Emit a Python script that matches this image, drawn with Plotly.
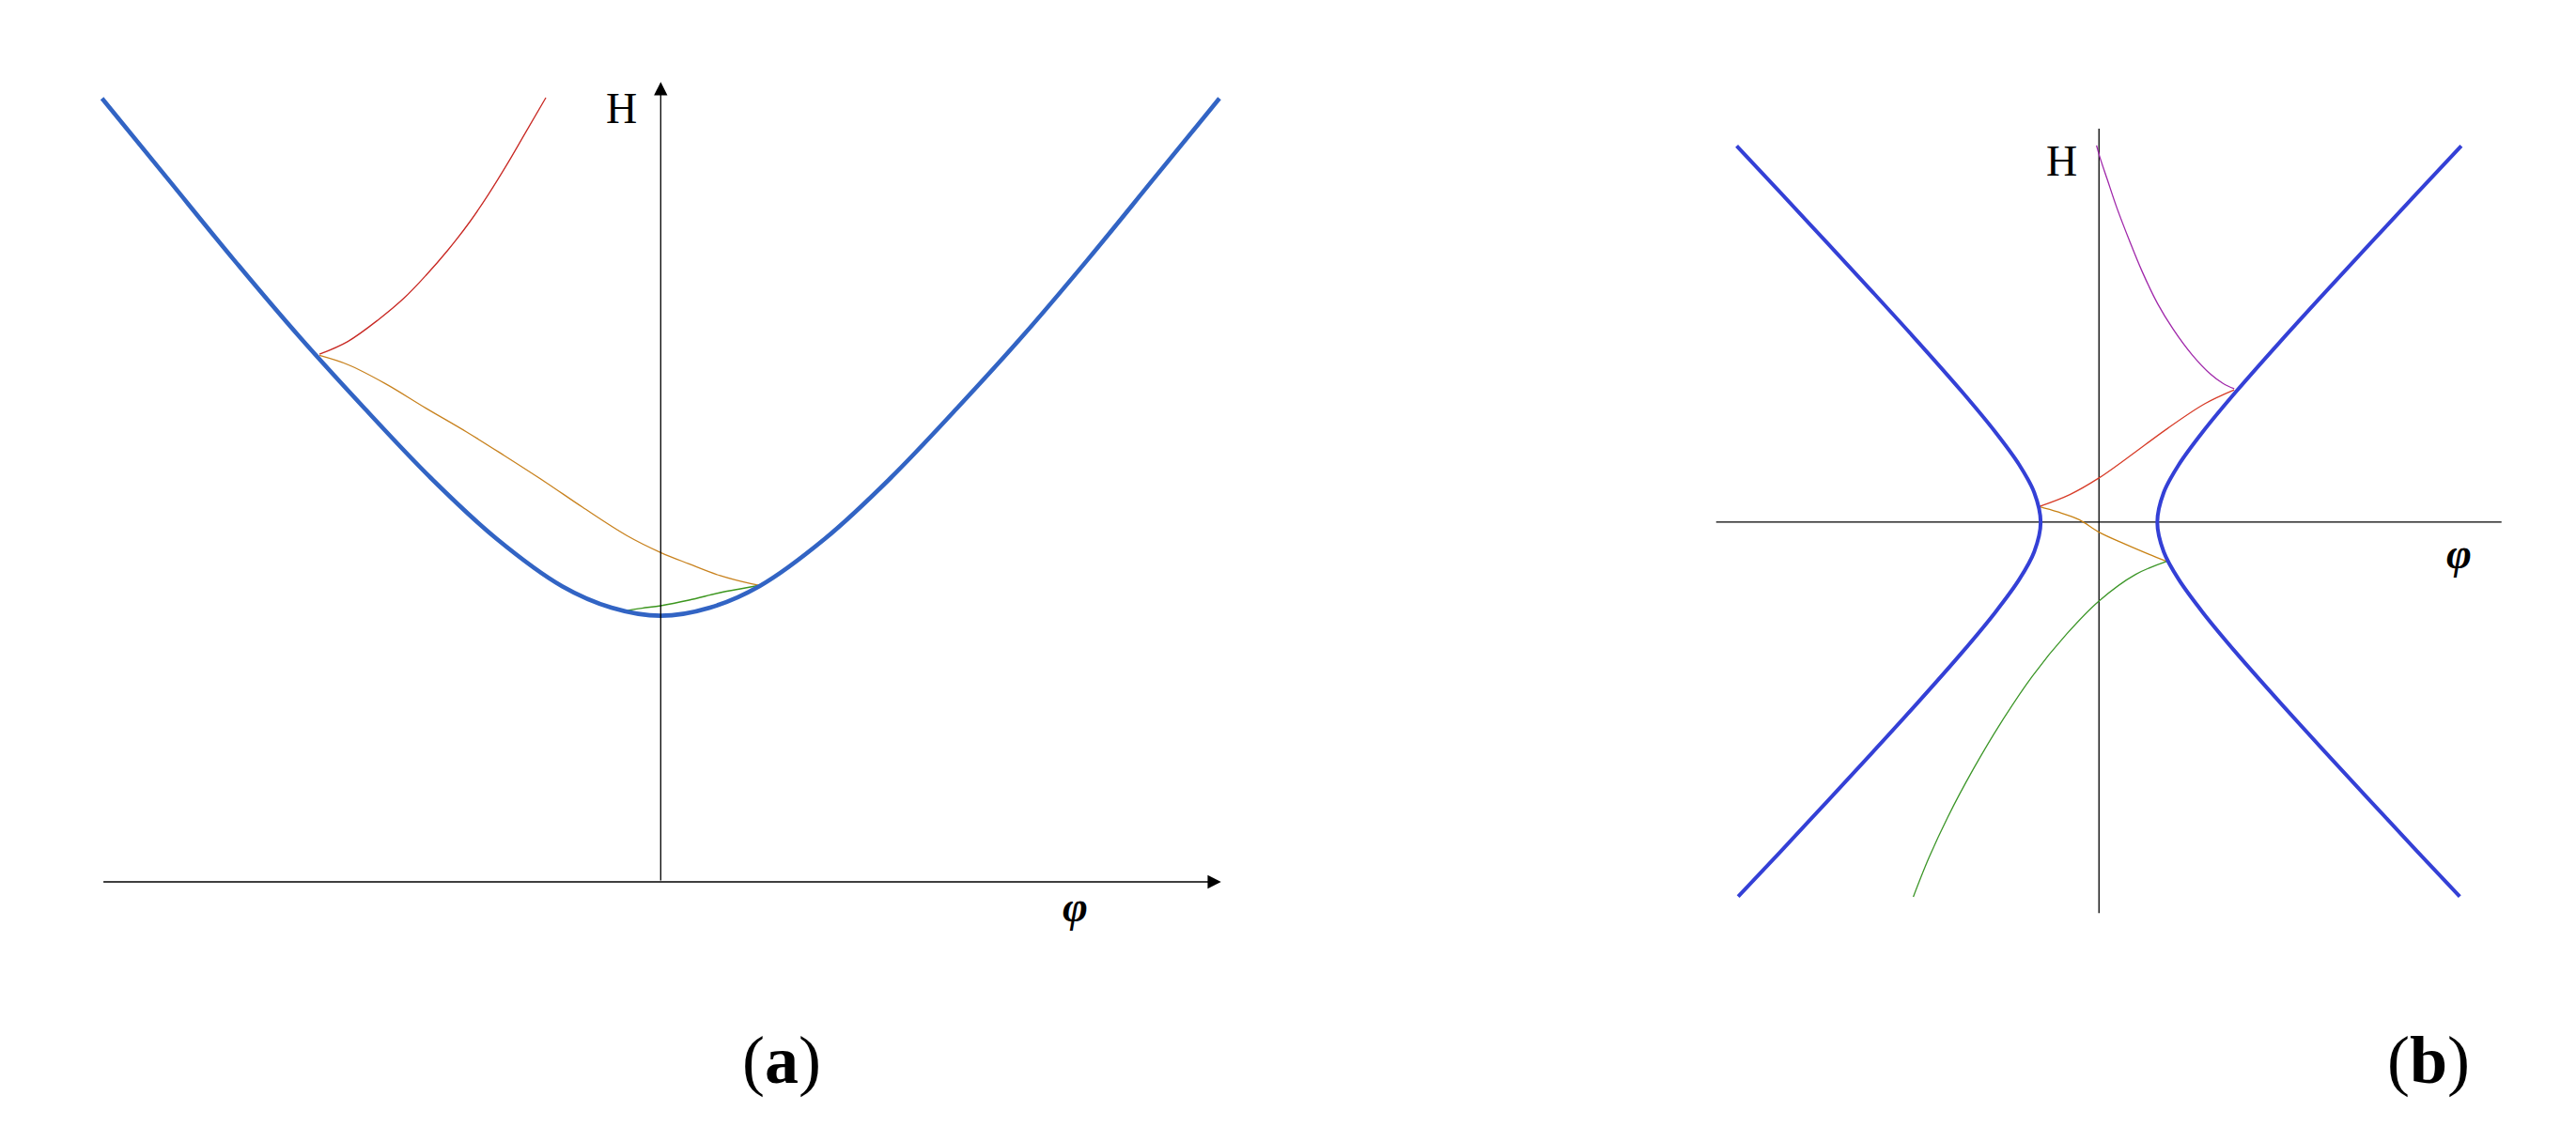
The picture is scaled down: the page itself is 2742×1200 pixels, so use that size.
import plotly.graph_objects as go

# ---- panel (a) data (phi, H) ----
a_blue_phi = [-340, -300, -260, -220, -180, -140, -100, -60, -30, 0, 30, 60, 100, 140, 180, 220, 260, 300, 340]
a_blue_h = [477, 428, 379, 332, 288, 246, 209, 180, 167, 162, 167, 180, 209, 246, 288, 332, 379, 428, 477]

a_red_phi = [-207.7, -190.4, -171.5, -156.3, -142.9, -129.6, -116.2, -104.8, -93.4, -82, -69.9]
a_red_h = [321.2, 329, 342.5, 355.3, 369.2, 384.5, 401.8, 418.6, 437, 456.6, 477.4]

a_orange_phi = [-207.7, -190.4, -167.7, -142.9, -118.1, -95.3, -70.5, -47.6, -20.9, 0, 17.2, 36.2, 55.3, 60]
a_orange_h = [320.5, 314.9, 303.4, 288.4, 273.9, 259.6, 243.6, 228.1, 211, 200.5, 193.6, 186.4, 181.4, 180.5]

a_green_phi = [-23.8, -11.4, 0, 17.2, 36.2, 47.7, 60]
a_green_h = [164.7, 166.6, 168.1, 171.5, 176.1, 178.2, 180.5]

# ---- panel (b) data (phi, H) ----
b_h = [229, 200, 170, 140, 110, 80, 55, 35, 18, 0, -18, -35, -55, -80, -110, -140, -170, -200, -228]
b_right_phi = [220.5, 193.3, 165.4, 137.7, 110.4, 83.9, 63.2, 48.6, 39.4, 35.5,
               39.4, 48.6, 63.2, 83.9, 110.4, 137.7, 165.4, 193.3, 219.6]
b_left_phi = [-v for v in b_right_phi]

b_magenta_phi = [-1.5, 0.4, 5.1, 10.9, 18.5, 26.1, 35.7, 45.2, 56.6, 68, 75.7, 82.3]
b_magenta_h = [229.3, 222.6, 208.5, 191.3, 171.5, 153, 133, 117.4, 102, 90, 84.3, 81.2]

b_red_phi = [-36.4, -17.7, 0, 18.5, 41.4, 64.3, 82.3]
b_red_h = [9.5, 16.8, 26.9, 40, 56.8, 72, 80.5]

b_orange_phi = [-36.4, -25.3, -12, 0, 16.6, 30, 41.4]
b_orange_h = [9.5, 6.3, 1.5, -6.1, -13.7, -19.4, -24]

b_green_phi = [41.4, 22.3, 0, -19.6, -40.6, -59.6, -76.8, -92, -103.5, -113]
b_green_h = [-23.8, -31.8, -48, -68, -93.8, -122, -150.9, -179.5, -204.3, -228.1]

SERIF = "Liberation Serif"

fig = go.Figure()


def curve(x, y, color, width, xa="x", ya="y"):
    fig.add_trace(go.Scatter(x=x, y=y, mode="lines", xaxis=xa, yaxis=ya,
                             line=dict(color=color, width=width, shape="spline", smoothing=1.0),
                             hoverinfo="skip", showlegend=False))


def straight(x, y, xa, ya):
    fig.add_trace(go.Scatter(x=x, y=y, mode="lines", xaxis=xa, yaxis=ya,
                             line=dict(color="black", width=1.3),
                             hoverinfo="skip", showlegend=False))


# panel (a)
curve(a_red_phi, a_red_h, "rgb(200,40,35)", 1.3)
curve(a_orange_phi, a_orange_h, "rgb(200,130,30)", 1.3)
curve(a_green_phi, a_green_h, "rgb(60,150,30)", 1.5)
curve(a_blue_phi, a_blue_h, "rgb(50,100,196)", 4.6)

# panel (b)
straight([-233, 245], [0, 0], "x2", "y2")
straight([0, 0], [-238, 239.5], "x2", "y2")
curve(b_magenta_phi, b_magenta_h, "rgb(160,40,170)", 1.3, "x2", "y2")
curve(b_red_phi, b_red_h, "rgb(215,60,40)", 1.3, "x2", "y2")
curve(b_orange_phi, b_orange_h, "rgb(200,130,20)", 1.3, "x2", "y2")
curve(b_green_phi, b_green_h, "rgb(60,150,40)", 1.3, "x2", "y2")
curve(b_left_phi, b_h, "rgb(52,64,214)", 4, "x2", "y2")
curve(b_right_phi, b_h, "rgb(52,64,214)", 4, "x2", "y2")

ann = [
    # axes of (a) with arrow heads
    dict(x=341, y=0, ax=-340, ay=0, xref="x", yref="y", axref="x", ayref="y",
         showarrow=True, arrowhead=2, arrowsize=2.2, arrowwidth=1.3, arrowcolor="black", text=""),
    dict(x=0, y=487, ax=0, ay=0, xref="x", yref="y", axref="x", ayref="y",
         showarrow=True, arrowhead=2, arrowsize=2.2, arrowwidth=1.3, arrowcolor="black", text=""),
    dict(x=-24, y=471, xref="x", yref="y", text="H", showarrow=False,
         font=dict(family=SERIF, size=46, color="black")),
    dict(x=252, y=-15, xref="x", yref="y", text="<b><i>φ</i></b>", showarrow=False,
         font=dict(family=SERIF, size=46, color="black")),
    dict(x=-23, y=219.6, xref="x2", yref="y2", text="H", showarrow=False,
         font=dict(family=SERIF, size=46, color="black")),
    dict(x=219, y=-19, xref="x2", yref="y2", text="<b><i>φ</i></b>", showarrow=False,
         font=dict(family=SERIF, size=46, color="black")),
    dict(x=(832 - 8) / 2742, y=1 - (1129 - 8) / 1200, xref="paper", yref="paper", text="(<b>a</b>)",
         xanchor="center", yanchor="middle",
         showarrow=False, font=dict(family=SERIF, size=72, color="black")),
    dict(x=(2585 - 8) / 2742, y=1 - (1129 - 8) / 1200, xref="paper", yref="paper", text="(<b>b</b>)",
         xanchor="center", yanchor="middle",
         showarrow=False, font=dict(family=SERIF, size=72, color="black")),
]

hidden = dict(visible=False, showgrid=False, zeroline=False, fixedrange=True)

# ranges include the 8px page offset of the figure
fig.update_layout(
    width=2742, height=1200,
    margin=dict(l=0, r=0, t=0, b=0),
    paper_bgcolor="white", plot_bgcolor="white",
    xaxis=dict(domain=[0, 0.5], range=[-397.5, 386.3], **hidden),
    yaxis=dict(domain=[0, 1], range=[-153.8, 532.3], **hidden),
    xaxis2=dict(domain=[0.5, 1], range=[-489.0, 294.9], anchor="y2", **hidden),
    yaxis2=dict(domain=[0, 1], range=[-372.8, 313.3], anchor="x2", **hidden),
    annotations=ann,
)

fig.write_html("out.html")
